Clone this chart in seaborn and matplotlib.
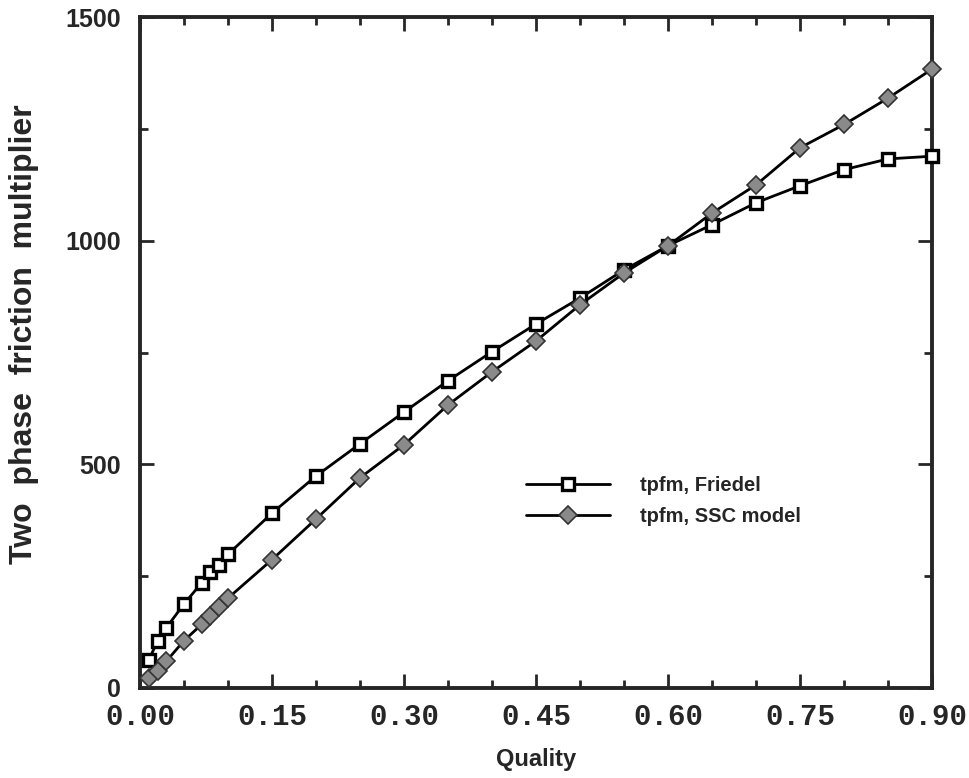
import numpy as np
import pandas as pd
import matplotlib
matplotlib.use("Agg")
import matplotlib.pyplot as plt
from matplotlib.ticker import MultipleLocator
import seaborn as sns

# Quality values (x)
quality = [0.01, 0.02, 0.03, 0.05, 0.07, 0.08, 0.09, 0.10, 0.15, 0.20, 0.25,
           0.30, 0.35, 0.40, 0.45, 0.50, 0.55, 0.60, 0.65, 0.70, 0.75, 0.80,
           0.85, 0.90]

# Two phase friction multiplier, Friedel correlation
friedel = [63, 105, 135, 188, 235, 259, 275, 299, 391, 474, 546,
           617, 687, 752, 814, 872, 935, 989, 1036, 1085, 1123, 1159,
           1183, 1189]

# Two phase friction multiplier, SSC model
ssc = [22, 39, 60, 106, 142, 162, 180, 201, 287, 378, 470,
       544, 633, 707, 776, 857, 928, 989, 1062, 1125, 1208, 1260,
       1319, 1384]

x_ticks = [0.00, 0.15, 0.30, 0.45, 0.60, 0.75, 0.90]
y_ticks = [0, 500, 1000, 1500]

df = pd.DataFrame({"Quality": quality, "Friedel": friedel, "SSC": ssc})

sns.set_style("ticks")
plt.rcParams['font.family'] = ['Liberation Sans', 'DejaVu Sans']

fig = plt.figure(figsize=(9.69, 7.78), dpi=100)
ax = fig.add_axes([0.1445, 0.1157, 0.8175, 0.8623])

sns.lineplot(data=df, x="Quality", y="Friedel", ax=ax, color="black", lw=2,
             marker="s", markersize=9, markerfacecolor="white",
             markeredgecolor="black", markeredgewidth=2.4,
             label="tpfm, Friedel", clip_on=False, zorder=3)
sns.lineplot(data=df, x="Quality", y="SSC", ax=ax, color="black", lw=2,
             marker="D", markersize=9, markerfacecolor="#8a8a8a",
             markeredgecolor="#333333", markeredgewidth=1.2,
             label="tpfm, SSC model", clip_on=False, zorder=3)

ax.set_xlim(0, 0.90)
ax.set_ylim(0, 1500)
ax.set_xticks(x_ticks)
ax.set_xticklabels([f"{t:.2f}" for t in x_ticks], family="Liberation Mono",
                   fontweight="bold", fontsize=21)
ax.set_yticks(y_ticks)
ax.set_yticklabels([str(t) for t in y_ticks], fontweight="bold", fontsize=18)
ax.xaxis.set_minor_locator(MultipleLocator(0.05))
ax.yaxis.set_minor_locator(MultipleLocator(250))
ax.tick_params(which="both", direction="in", top=True, right=True, width=2)
ax.tick_params(which="major", length=10)
ax.tick_params(axis="x", which="major", pad=11)
ax.tick_params(axis="y", which="major", pad=14)
ax.tick_params(which="minor", length=6)
for sp in ax.spines.values():
    sp.set_linewidth(2.8)
    sp.set_visible(True)

ax.set_xlabel("Quality", fontweight="bold", fontsize=17, labelpad=12)
ax.set_ylabel("Two  phase  friction  multiplier", fontweight="bold",
              fontsize=23)
ax.yaxis.set_label_coords(-0.127, 0.528)

leg = ax.legend(loc="center left", bbox_to_anchor=(0.464, 0.279), frameon=False,
                prop={"weight": "bold", "size": 14.5}, handlelength=4.2,
                labelspacing=0.6, handletextpad=1.5)

fig.savefig("out.png", dpi=100)
